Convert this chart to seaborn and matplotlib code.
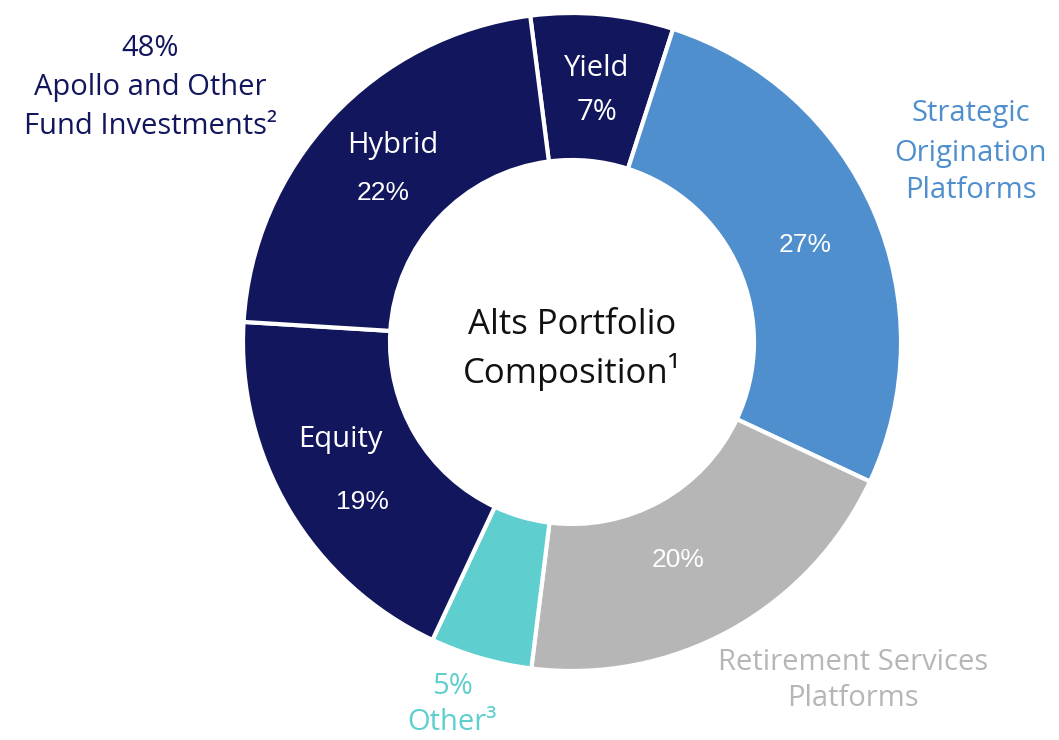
import matplotlib.pyplot as plt
import seaborn as sns

# Alts portfolio composition (% of total), clockwise from the top
segments = ["Yield", "Strategic Origination Platforms", "Retirement Services Platforms",
            "Other", "Equity", "Hybrid"]
shares = [7, 27, 20, 5, 19, 22]
colors = ["#12165C", "#4F8FCD", "#B6B6B6", "#5ECFCE", "#12165C", "#12165C"]

NAVY, BLUE, GRAY, TEAL = "#12165C", "#4F8FCD", "#B6B6B6", "#5ECFCE"
W, H = 1059, 740
SANS = ['Open Sans', 'DejaVu Sans']

sns.set_theme(style="white")
plt.rcParams['font.family'] = SANS

fig = plt.figure(figsize=(W / 100, H / 100), dpi=100)
ax = fig.add_axes([0, 0, 1, 1])

ax.pie(shares, colors=colors, startangle=97.3, counterclock=False,
       center=(572, H - 342), radius=329,
       wedgeprops=dict(width=147, edgecolor="white", linewidth=3))
ax.set_xlim(0, W)
ax.set_ylim(0, H)
ax.set_aspect("equal")
ax.axis("off")


def txt(x, y, s, color, size, family=None, **kw):
    kw.setdefault("ha", "center")
    ax.text(x, H - y, s, color=color, fontsize=size, va="center",
            family=family or SANS, **kw)


arial = ['Liberation Sans', 'DejaVu Sans']

# labels inside the ring
txt(597, 68, "Yield", "white", 21)
txt(597, 113, "7%", "white", 21)
txt(393, 146, "Hybrid", "white", 21)
txt(383, 193, "22%", "white", 19, arial)
txt(340, 440, "Equity", "white", 21)
txt(362, 502, "19%", "white", 19, arial)
txt(805, 245, "27%", "white", 19, arial)
txt(678, 560, "20%", "white", 19, arial)

# center
txt(572, 325, "Alts Portfolio", "#111111", 25)
txt(572, 372, "Composition¹", "#111111", 25)

# outside labels
txt(150, 48, "48%", NAVY, 21)
txt(150, 88, "Apollo and Other", NAVY, 21)
txt(150, 127, "Fund Investments²", NAVY, 21)

txt(971, 113, "Strategic", BLUE, 21)
txt(971, 153, "Origination", BLUE, 21)
txt(971, 190, "Platforms", BLUE, 21)

txt(853, 662, "Retirement Services", GRAY, 21)
txt(853, 699, "Platforms", GRAY, 21)

txt(452, 687, "5%", TEAL, 21)
txt(452, 722, "Other³", TEAL, 21)

fig.savefig("out.png", dpi=100)
